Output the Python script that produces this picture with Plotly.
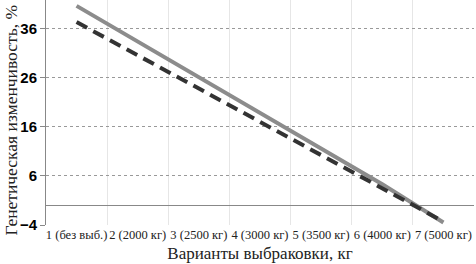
import plotly.graph_objects as go

categories = ["1 (без выб.)", "2 (2000 кг)", "3 (2500 кг)", "4 (3000 кг)",
              "5 (3500 кг)", "6 (4000 кг)", "7 (5000 кг)"]
series_solid = [40.7, 33.4, 26.1, 18.9, 11.6, 4.3, -3.5]
series_dashed = [37.4, 30.6, 23.9, 17.1, 10.3, 3.6, -3.3]
y_ticks = [-4, 6, 16, 26, 36]
y_title = "Генетическая изменчивость, %"

fig = go.Figure()
fig.add_trace(go.Scatter(x=categories, y=series_solid, mode="lines",
                         line=dict(color="#8c8c8c", width=4), showlegend=False))
fig.add_trace(go.Scatter(x=categories, y=series_dashed, mode="lines",
                         line=dict(color="#333333", width=4, dash="12px,7px"),
                         showlegend=False))

fig.add_annotation(text=y_title, textangle=-90, xref="paper", yref="paper",
                   x=0, xshift=-35, y=0.465, xanchor="center", yanchor="middle",
                   showarrow=False,
                   font=dict(family="Liberation Serif", size=17.5, color="#222"))

fig.update_layout(
    width=476, height=264,
    margin=dict(l=46, r=2, t=0, b=39),
    paper_bgcolor="white", plot_bgcolor="white",
    xaxis=dict(
        type="category", tickson="boundaries", automargin=False,
        showgrid=True, gridcolor="#e6e6e6", gridwidth=1,
        showline=False, ticks="", tickangle=0,
        tickfont=dict(family="Liberation Serif", size=12.5, color="#222"),
        title=dict(text="Варианты выбраковки, кг", standoff=6,
                   font=dict(family="Liberation Serif", size=17, color="#222")),
        range=[-0.5, 6.5],
    ),
    yaxis=dict(
        range=[-4, 41.9], tickvals=y_ticks, automargin=False,
        showgrid=True, gridcolor="#999999", griddash="dot", gridwidth=1,
        zeroline=True, zerolinecolor="#888888", zerolinewidth=1,
        showline=True, linecolor="#888888", linewidth=1,
        ticks="outside", ticklen=5, tickcolor="#888888",
        tickfont=dict(family="Liberation Sans", size=15, color="black", weight="bold"),
    ),
)

fig.write_html("out.html", config={"displayModeBar": False},
               post_script="document.body.style.margin='0';")
